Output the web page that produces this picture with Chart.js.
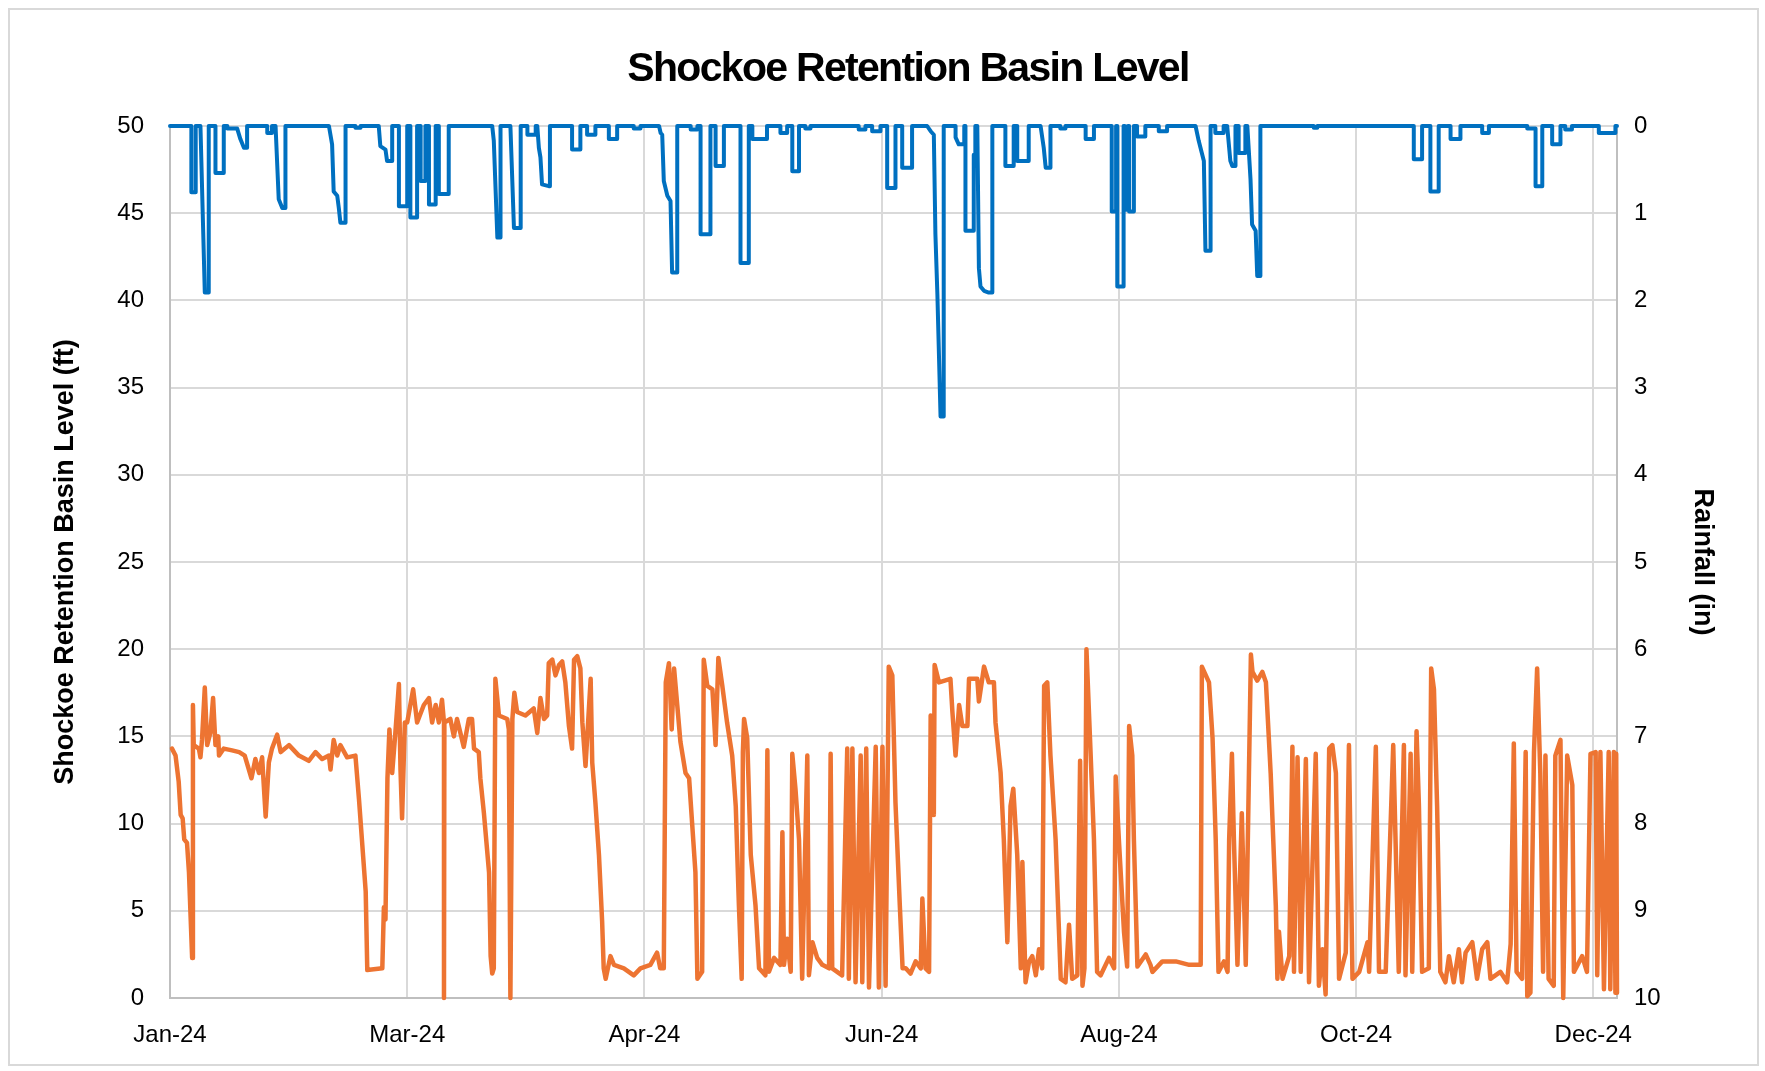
<!DOCTYPE html>
<html>
<head>
<meta charset="utf-8">
<title>Shockoe Retention Basin Level</title>
<script src="https://cdn.jsdelivr.net/npm/chart.js@4.4.1/dist/chart.umd.min.js"></script>
<style>
  html, body { margin: 0; padding: 0; background: #fff; }
  #wrap { position: relative; width: 1765px; height: 1071px; }
  #frame { position: absolute; left: 8px; top: 8px; width: 1751px; height: 1058px; border: 2px solid #d9d9d9; box-sizing: border-box; }
  canvas { position: absolute; left: 0; top: 0; }
</style>
</head>
<body>
<div id="wrap">
  <div id="frame"></div>
  <canvas id="basinChart" width="1765" height="1071"></canvas>
</div>
<script>
// x values are days since Jan 1 2024
const xTickDays = [0, 60, 120, 180, 240, 300, 360];
const xTickLabels = ["Jan-24", "Mar-24", "Apr-24", "Jun-24", "Aug-24", "Oct-24", "Dec-24"];
const chartTitle = "Shockoe Retention Basin Level";

// [day, level ft]
const basinLevel = [
  [0.5,14.3],[1.4,13.9],[2.2,12.4],[2.7,10.5],[3.2,10.3],[3.6,9.1],[4.3,8.9],[4.8,7.2],[5.6,2.3],[5.8,16.8],
  [6.0,14.5],[7.3,14.3],[7.7,13.8],[8.1,14.8],[8.8,17.8],[9.4,14.5],[10.2,15.2],[10.9,17.2],[11.5,14.5],[12.2,15.0],
  [12.4,13.9],[13.6,14.3],[15.7,14.2],[17.5,14.1],[18.9,13.9],[20.6,12.6],[21.6,13.7],[22.5,12.9],[23.3,13.8],[24.2,10.4],
  [25.0,13.5],[25.8,14.3],[27.1,15.1],[28.0,14.1],[30.1,14.5],[32.6,13.9],[35.1,13.6],[36.8,14.1],[38.5,13.7],[40.2,13.9],
  [40.6,13.1],[41.4,14.8],[42.3,13.9],[43.1,14.5],[44.8,13.8],[46.9,13.9],[47.8,11.4],[49.5,6.1],[49.9,1.6],[53.7,1.7],
  [54.1,5.2],[54.5,4.5],[55.0,12.6],[55.5,15.4],[56.2,12.9],[57.0,15.2],[57.9,18.0],[58.3,13.1],[58.7,10.3],[59.4,15.8],
  [60.0,15.8],[61.5,17.7],[62.5,15.8],[64.2,16.8],[65.5,17.2],[66.3,15.8],[67.2,16.8],[68.0,15.8],[68.8,17.1],[69.3,15.8],
  [69.3,0],[69.4,15.8],[70.9,16.0],[71.8,15.0],[72.6,16.0],[74.3,14.4],[75.6,16.0],[76.4,16.0],[76.9,14.3],[78.1,14.1],
  [78.5,12.6],[79.4,10.6],[80.7,7.2],[81.1,2.4],[81.5,1.4],[81.9,1.7],[82.3,18.3],[83.2,16.2],[85.3,16.0],[85.7,15.4],
  [86.1,0],[86.6,16.0],[87.1,17.5],[87.8,16.4],[89.9,16.2],[92.0,16.6],[92.9,15.2],[93.7,17.2],[94.6,16.0],[95.4,16.2],
  [95.8,19.2],[96.7,19.4],[97.5,18.5],[98.4,19.1],[99.2,19.3],[100.0,18.1],[100.9,15.6],[101.7,14.3],[102.2,19.4],[103.0,19.6],
  [103.8,18.9],[104.3,15.8],[105.1,13.3],[106.4,18.3],[106.8,13.5],[107.6,11.2],[108.5,8.2],[109.3,4.4],[109.7,1.7],[110.2,1.1],
  [111.4,2.4],[112.3,1.9],[114.8,1.7],[117.3,1.3],[119.0,1.7],[121.5,1.9],[123.2,2.6],[124.0,1.7],[124.9,1.7],[125.4,18.1],
  [126.2,19.2],[126.9,15.4],[127.5,18.9],[128.3,16.8],[129.1,14.7],[130.4,12.9],[131.3,12.6],[132.1,9.9],[132.9,7.2],[133.4,1.1],
  [134.6,1.5],[135.0,19.4],[135.9,17.9],[137.2,17.7],[138.0,14.5],[138.7,19.5],[139.7,17.9],[140.9,15.8],[142.2,13.9],[143.1,11.0],
  [143.9,5.3],[144.6,1.1],[144.9,14.1],[145.2,16.0],[146.0,14.9],[146.9,8.2],[148.1,5.3],[149.0,1.7],[150.6,1.3],[151.1,14.2],
  [151.5,1.5],[152.8,2.3],[154.4,1.9],[154.9,9.5],[155.3,1.9],[156.1,3.4],[157.0,1.5],[157.4,14.0],[158.2,12.0],[159.1,9.1],
  [159.9,1.1],[161.2,13.9],[161.6,1.3],[162.5,3.2],[163.7,2.3],[165.0,1.9],[166.7,1.7],[167.1,14.0],[167.5,1.7],[170.0,1.3],
  [171.3,14.3],[171.7,1.1],[172.6,14.3],[173.4,0.9],[174.7,13.9],[175.1,0.9],[176.1,14.3],[176.8,0.6],[178.5,14.4],[179.3,0.6],
  [180.2,14.4],[181.0,0.7],[181.8,19.0],[182.7,18.5],[183.5,11.2],[184.6,5.3],[185.3,1.7],[186.1,1.7],[187.3,1.4],[188.6,2.1],
  [189.9,1.7],[190.3,5.7],[191.1,1.7],[192.0,1.5],[192.4,16.2],[193.2,10.5],[193.4,19.1],[194.5,18.1],[197.4,18.3],[197.9,16.4],
  [198.7,13.9],[199.6,16.8],[200.4,15.6],[201.7,15.6],[202.1,18.3],[204.2,18.3],[204.6,17.0],[205.9,19.0],[207.1,18.1],[208.4,18.1],
  [208.8,15.8],[210.1,12.9],[210.9,9.1],[211.8,3.2],[212.6,11.0],[213.3,12.0],[214.3,8.2],[215.2,1.7],[215.6,7.8],[216.4,0.9],
  [217.3,2.1],[218.1,2.4],[219.0,1.3],[219.8,2.8],[220.6,1.7],[221.1,17.9],[221.9,18.1],[222.7,13.9],[224.0,9.1],[225.3,1.1],
  [226.5,0.9],[227.4,4.2],[228.2,1.1],[229.5,1.3],[230.2,13.6],[230.8,0.7],[231.3,1.7],[231.8,20.0],[232.7,14.9],[233.7,9.1],
  [234.5,1.5],[235.4,1.3],[237.5,2.3],[238.8,1.7],[239.2,12.7],[240.0,9.1],[241.3,3.8],[242.1,1.8],[242.6,15.6],[243.4,13.9],
  [243.8,9.1],[244.7,1.8],[246.8,2.5],[248.0,1.9],[248.5,1.5],[251.0,2.1],[254.4,2.1],[257.8,1.9],[260.7,1.9],[261.0,19.0],
  [262.0,18.5],[262.8,18.1],[263.7,14.9],[264.5,9.1],[265.2,1.5],[266.6,2.1],[267.5,1.5],[267.9,9.1],[268.6,14.0],[269.1,9.1],
  [270.0,1.9],[271.1,10.6],[272.1,1.9],[273.4,19.7],[273.8,18.7],[275.0,18.2],[276.3,18.7],[277.2,18.1],[278.4,12.9],[279.7,5.3],
  [280.1,1.1],[280.5,3.8],[281.4,1.1],[283.1,2.4],[283.9,14.4],[284.3,1.5],[285.2,13.8],[286.0,1.5],[287.3,13.7],[288.1,0.9],
  [289.8,14.0],[290.6,0.7],[291.5,2.8],[292.3,0.2],[293.2,14.3],[294.0,14.5],[294.9,12.9],[295.7,1.1],[297.4,2.6],[298.2,14.5],
  [299.1,1.1],[300.8,1.5],[302.9,3.2],[303.3,1.5],[305.0,14.4],[305.8,1.5],[307.5,1.5],[309.4,14.5],[310.8,1.5],[312.1,14.5],
  [312.5,1.3],[313.8,14.0],[314.2,1.5],[315.3,15.3],[315.9,11.0],[316.7,1.5],[318.4,1.7],[319.0,18.9],[319.7,17.7],[320.5,11.0],
  [321.3,1.5],[322.6,0.9],[323.5,2.4],[324.7,0.9],[326.0,2.8],[326.8,0.9],[327.7,2.6],[329.4,3.2],[330.6,1.1],[331.9,2.8],
  [333.2,3.2],[334.0,1.1],[336.5,1.5],[338.2,0.9],[339.1,3.1],[339.9,14.6],[340.6,1.5],[342.0,1.1],[342.9,14.1],[343.3,0.1],
  [344.1,0.3],[345.0,14.1],[345.8,18.9],[346.6,12.9],[347.3,1.5],[347.9,13.9],[348.7,1.1],[350.0,0.7],[350.4,13.9],[351.7,14.8],
  [352.4,0],[353.4,13.9],[354.7,12.2],[355.1,1.5],[357.2,2.4],[358.4,1.5],[359.3,14.0],[360.6,14.1],[361.0,1.3],[361.8,14.1],
  [362.7,0.5],[363.9,14.1],[364.3,0.5],[365.2,14.1],[365.6,0.3],[365.8,14.0],[366.0,0.3]
];

// [day, cumulative storm rainfall in]
const rainfall = [
  [0,0],[5.4,0],[5.4,0.76],[6.5,0.76],[6.5,0],[7.7,0],[8.8,1.91],[9.8,1.91],[9.8,0],
  [11.5,0],[11.5,0.54],[13.6,0.54],[13.6,0],[14.5,0],[14.5,0.03],[17.0,0.03],[17.8,0.15],[18.7,0.25],[19.5,0.25],[19.5,0],
  [24.6,0],[24.6,0.08],[25.8,0.08],[25.8,0],[26.7,0],[27.5,0.84],[28.4,0.94],[29.2,0.94],[29.2,0],
  [40.2,0],[41.0,0.21],[41.4,0.75],[42.3,0.8],[42.7,0.94],[43.1,1.11],[44.4,1.11],[44.4,0],
  [46.9,0],[46.9,0.02],[48.2,0.02],[48.2,0],[52.8,0],[53.2,0.23],[54.5,0.27],[54.9,0.4],[56.2,0.4],[56.2,0],
  [57.9,0],[57.9,0.92],[60.0,0.92],[60.0,0],[60.8,0],[60.8,1.05],[62.5,1.05],[62.5,0],
  [63.4,0],[63.4,0.63],[64.6,0.63],[64.6,0],[65.5,0],[65.5,0.9],[67.2,0.9],[67.2,0],
  [68.0,0],[68.0,0.78],[70.5,0.78],[70.5,0],[81.5,0],[81.9,0.17],[82.8,1.28],[83.6,1.28],[83.6,0],
  [86.1,0],[87.0,1.17],[88.7,1.17],[88.7,0],[90.4,0],[90.4,0.1],[92.5,0.1],[92.5,0],
  [92.9,0],[93.3,0.25],[93.7,0.36],[94.1,0.67],[95.8,0.69],[96.1,0.69],[96.1,0],
  [101.7,0],[101.7,0.27],[103.8,0.27],[103.8,0],[105.5,0],[105.5,0.1],[107.6,0.1],[107.6,0],
  [111.0,0],[111.0,0.15],[113.1,0.15],[113.1,0],[117.3,0],[117.3,0.03],[119.0,0.03],[119.0,0],
  [123.7,0],[124.1,0.08],[124.5,0.1],[124.9,0.63],[125.8,0.8],[126.6,0.86],[127.0,1.68],[128.3,1.68],[128.3,0],
  [131.7,0],[131.7,0.04],[133.4,0.04],[133.4,0],[134.2,0],[134.2,1.24],[136.7,1.24],[136.7,0],
  [138.0,0],[138.0,0.46],[140.1,0.46],[140.1,0],[144.3,0],[144.3,1.57],[146.4,1.57],[146.4,0],
  [147.3,0],[147.3,0.15],[151.0,0.15],[151.0,0],[154.4,0],[154.4,0.08],[156.1,0.08],[156.1,0],
  [157.4,0],[157.4,0.52],[159.1,0.52],[159.1,0],[160.7,0],[160.7,0.03],[162.0,0.03],[162.0,0],
  [174.2,0],[174.2,0.04],[175.9,0.04],[175.9,0],[177.6,0],[177.6,0.06],[179.7,0.06],[179.7,0],
  [181.4,0],[181.4,0.71],[183.5,0.71],[183.5,0],[185.2,0],[185.2,0.48],[187.7,0.48],[187.7,0],
  [191.5,0],[192.4,0.06],[193.2,0.1],[193.6,1.24],[194.1,1.93],[194.9,3.33],[195.7,3.33],[195.7,0],
  [198.7,0],[198.7,0.13],[199.5,0.21],[200.9,0.21],[200.9,0],[201.2,0],[201.2,1.2],[203.3,1.2],[203.3,0.33],[203.7,0.33],[203.7,0],
  [204.2,0],[204.6,1.63],[205.0,1.84],[205.9,1.89],[207.1,1.91],[208.0,1.91],[208.0,0],
  [211.3,0],[211.3,0.46],[213.4,0.46],[213.4,0],[214.3,0],[214.3,0.4],[217.2,0.4],[217.2,0],
  [220.2,0],[221.0,0.25],[221.5,0.48],[222.7,0.48],[222.7,0],[225.2,0],[225.2,0.03],[226.5,0.03],[226.5,0],
  [231.6,0],[231.6,0.15],[233.7,0.15],[233.7,0],[238.2,0],[238.2,0.98],[239.3,0.98],[239.3,0],
  [239.6,0],[239.6,1.84],[241.2,1.84],[241.2,0],[241.5,0],[241.5,0.96],[242.3,0.96],[242.3,0],
  [242.6,0],[242.6,0.98],[243.8,0.98],[243.8,0],[244.6,0],[244.6,0.12],[246.7,0.12],[246.7,0],
  [250.1,0],[250.1,0.06],[252.2,0.06],[252.2,0],
  [259.4,0],[260.2,0.17],[261.1,0.33],[261.5,0.4],[261.9,1.43],[263.2,1.43],[263.2,0],
  [264.4,0],[264.4,0.08],[266.5,0.08],[266.5,0],[267.4,0],[268.2,0.4],[268.7,0.46],[269.5,0.46],[269.5,0],
  [270.3,0],[270.3,0.31],[272.0,0.31],[272.0,0],
  [272.5,0],[273.3,0.61],[273.7,1.13],[274.6,1.2],[275.0,1.72],[275.8,1.72],[275.8,0],
  [289.3,0],[289.3,0.02],[290.2,0.02],[290.2,0],[314.6,0],[314.6,0.38],[316.7,0.38],[316.7,0],
  [318.8,0],[318.8,0.75],[320.9,0.75],[320.9,0],[323.9,0],[323.9,0.15],[326.4,0.15],[326.4,0],
  [331.9,0],[331.9,0.08],[333.6,0.08],[333.6,0],[343.3,0],[343.3,0.03],[345.4,0.03],[345.4,0.69],[347.1,0.69],[347.1,0],
  [349.6,0],[349.6,0.21],[351.7,0.21],[351.7,0],[352.9,0],[352.9,0.04],[354.6,0.04],[354.6,0],
  [361.4,0],[361.4,0.08],[365.6,0.08],[365.6,0],[366,0]
];

const FONT = "'Liberation Sans', Arial, sans-serif";
const tickFont = { family: FONT, size: 24 };
const titleFont = { family: FONT, size: 27, weight: "bold" };

const toXY = pts => pts.map(p => ({ x: p[0], y: p[1] }));

// Excel-style title: slightly condensed and sitting a bit right of canvas centre
const titlePlugin = {
  id: "condensedTitle",
  afterDraw(chart) {
    const ctx = chart.ctx;
    ctx.save();
    ctx.font = "bold 41px " + FONT;
    ctx.fillStyle = "#000";
    ctx.textAlign = "center";
    ctx.textBaseline = "middle";
    ctx.letterSpacing = "-1.7px";
    ctx.fillText(chartTitle, 908, 70);
    ctx.restore();
  }
};

new Chart(document.getElementById("basinChart").getContext("2d"), {
  type: "line",
  data: {
    datasets: [
      {
        label: "Shockoe Retention Basin Level (ft)",
        data: toXY(basinLevel),
        yAxisID: "y",
        borderColor: "#ED7432",
        borderWidth: 4.5,
        pointRadius: 0,
        tension: 0,
        borderJoinStyle: "round",
        borderCapStyle: "round",
        clip: false
      },
      {
        label: "Rainfall (in)",
        data: toXY(rainfall),
        yAxisID: "y1",
        borderColor: "#0070C0",
        borderWidth: 4,
        pointRadius: 0,
        tension: 0,
        borderJoinStyle: "round",
        borderCapStyle: "round",
        clip: false
      }
    ]
  },
  options: {
    responsive: false,
    animation: false,
    layout: { padding: { top: 126, left: 0, right: 0, bottom: 0 } },
    plugins: {
      legend: { display: false },
      tooltip: { enabled: false },
      title: { display: false }
    },
    scales: {
      x: {
        type: "linear",
        min: 0,
        max: 366,
        afterBuildTicks: s => { s.ticks = xTickDays.map(v => ({ value: v })); },
        afterFit: s => { s.height = 73; },
        ticks: {
          callback: v => xTickLabels[xTickDays.indexOf(v)],
          font: tickFont, color: "#000", padding: 23, maxRotation: 0, autoSkip: false
        },
        grid: { color: "#d9d9d9", lineWidth: 2, drawTicks: false },
        border: { color: "#bfbfbf", width: 2 }
      },
      y: {
        position: "left",
        min: 0,
        max: 50,
        afterFit: s => { s.width = 170; },
        ticks: { stepSize: 5, font: tickFont, color: "#000", padding: 26 },
        grid: { color: "#d9d9d9", lineWidth: 2, drawTicks: false },
        border: { color: "#bfbfbf", width: 2 },
        title: { display: true, text: "Shockoe Retention Basin Level (ft)", color: "#000", font: titleFont, padding: { top: 49 } }
      },
      y1: {
        position: "right",
        reverse: true,
        min: 0,
        max: 10,
        afterFit: s => { s.width = 148; },
        ticks: { stepSize: 1, font: tickFont, color: "#000", padding: 17 },
        grid: { display: false, drawTicks: false },
        border: { color: "#bfbfbf", width: 2 },
        title: { display: true, text: "Rainfall (in)", color: "#000", font: titleFont, padding: { top: 46 } }
      }
    }
  },
  plugins: [titlePlugin]
});
</script>
</body>
</html>
